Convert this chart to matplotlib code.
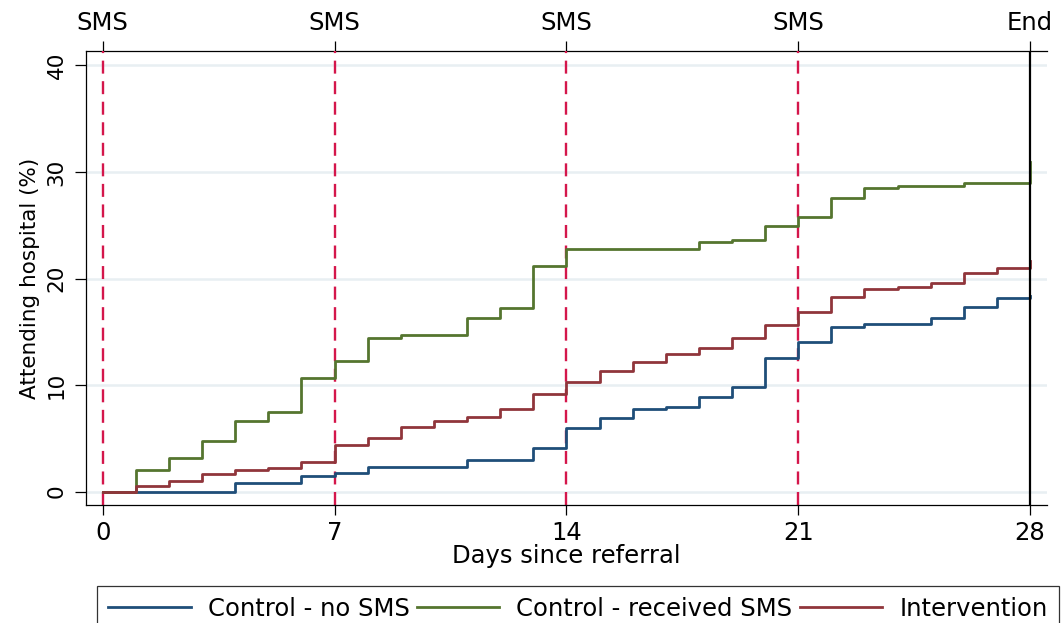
import numpy as np
import matplotlib
matplotlib.use("Agg")
import matplotlib.pyplot as plt
from matplotlib.lines import Line2D

plt.rcParams['font.family'] = ['DejaVu Sans']

# Cumulative % attending hospital by day since referral (day 0..28)
days = np.arange(0, 29)
control_no_sms = [0.0, 0.0, 0.0, 0.0, 0.82, 0.82, 1.44, 1.72, 2.32, 2.32,
                  2.32, 2.94, 2.94, 4.13, 5.95, 6.89, 7.73, 7.98, 8.89, 9.8,
                  12.5, 14.0, 15.46, 15.7, 15.7, 16.3, 17.3, 18.2, 18.4]
control_sms = [0.0, 2.07, 3.19, 4.79, 6.67, 7.51, 10.7, 12.3, 14.46, 14.7,
               14.7, 16.3, 17.2, 21.2, 22.8, 22.8, 22.8, 22.8, 23.4, 23.6,
               24.9, 25.75, 27.6, 28.5, 28.7, 28.7, 29.0, 29.0, 30.9]
intervention = [0.0, 0.56, 1.03, 1.63, 2.0, 2.25, 2.82, 4.41, 5.07, 6.04,
                6.6, 7.0, 7.8, 9.17, 10.3, 11.36, 12.14, 12.93, 13.5, 14.46,
                15.68, 16.9, 18.3, 19.0, 19.25, 19.6, 20.56, 21.0, 21.6]

series_labels = ["Control - no SMS", "Control - received SMS", "Intervention"]
series_colors = ["#1f4e79", "#55752f", "#90353b"]

sms_days = [0, 7, 14, 21]
end_day = 28
top_ticks = [0, 7, 14, 21, 28]
top_labels = ["SMS", "SMS", "SMS", "SMS", "End"]
bottom_ticks = [0, 7, 14, 21, 28]
y_ticks = [0, 10, 20, 30, 40]

fig = plt.figure(figsize=(10.62, 6.23), dpi=100)
ax = fig.add_axes([86 / 1062, 1 - 505 / 623, (1047 - 86) / 1062, (505 - 51) / 623])

ax.set_xlim(-0.504, 28.51)
ax.set_ylim(-1.25, 41.35)

# horizontal grid
for y in y_ticks:
    ax.axhline(y, color="#e8eff2", lw=1.8, zorder=0)

# reminder days and end of follow-up
for d in sms_days:
    ax.axvline(d, color="#d4164b", lw=1.7, dashes=(5.5, 3.2), zorder=1)
ax.axvline(end_day, color="black", lw=1.6, zorder=3)

for vals, lab, col in zip([control_no_sms, control_sms, intervention],
                          series_labels, series_colors):
    ax.plot(days, vals, drawstyle="steps-post", color=col, lw=2.0,
            label=lab, zorder=2)

ax.set_xticks(bottom_ticks)
ax.set_yticks(y_ticks)
ax.tick_params(axis="x", length=7.5, width=0.9, pad=4, labelsize=17.5, direction="out")
ax.tick_params(axis="y", length=8, width=0.9, pad=6, labelsize=15.5, direction="out")
for t in ax.get_yticklabels():
    t.set_rotation(90)
    t.set_verticalalignment("center")

ax.spines["right"].set_visible(False)
ax.spines["top"].set_visible(False)
for s in ("left", "bottom"):
    ax.spines[s].set_linewidth(0.9)

ax.set_xlabel("Days since referral", fontsize=17.5, labelpad=-1)
ax.set_ylabel("Attending hospital (%)", fontsize=15.5, labelpad=5)

top = ax.secondary_xaxis("top")
top.set_xticks(top_ticks, top_labels)
top.tick_params(axis="x", length=7.5, width=0.9, pad=4, labelsize=17.5)
top.spines["top"].set_linewidth(0.9)

handles = [Line2D([], [], color=c, lw=2.0) for c in series_colors]
leg = fig.legend(handles, series_labels, loc="upper left",
                 bbox_to_anchor=(97 / 1062, 1 - 586 / 623), ncol=3,
                 fontsize=17.5, frameon=True, fancybox=False,
                 edgecolor="black", handlelength=3.4, handletextpad=0.7,
                 columnspacing=0.3, borderpad=0.45, borderaxespad=0)
leg.get_frame().set_linewidth(0.9)

fig.savefig("out.png", dpi=100)
